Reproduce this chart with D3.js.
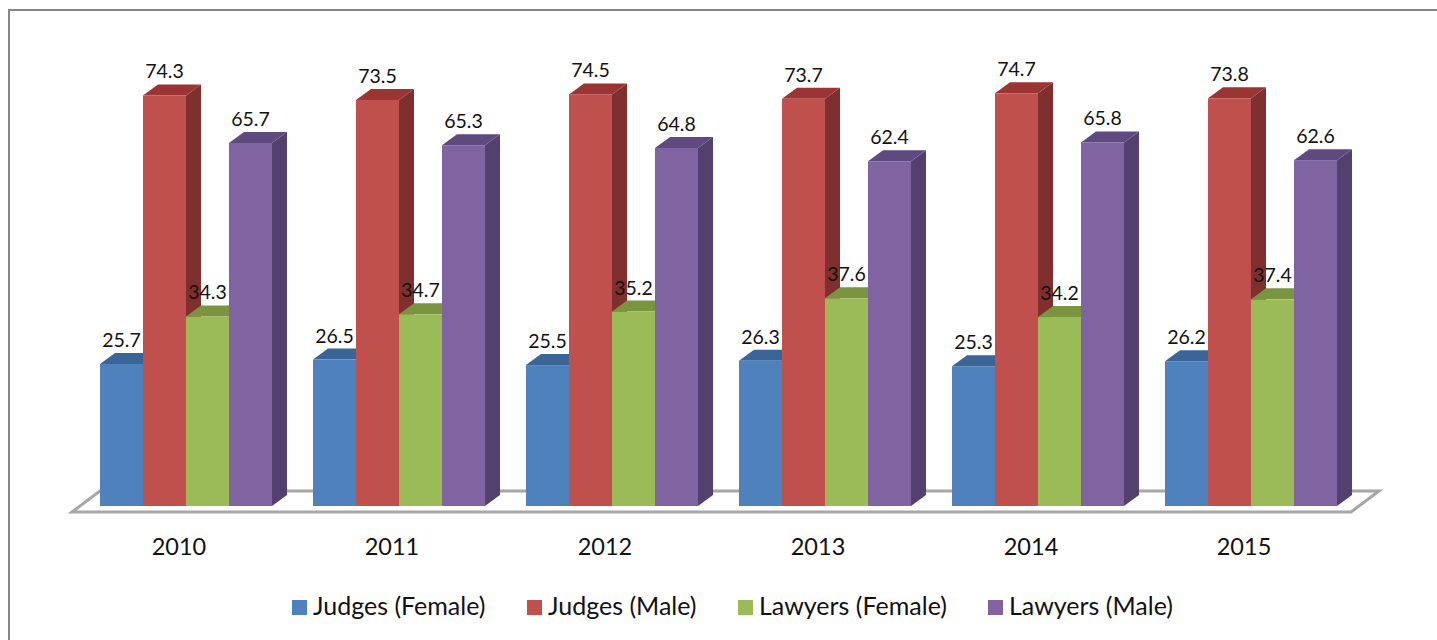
<!DOCTYPE html>
<html>
<head>
<meta charset="utf-8">
<script src="https://cdnjs.cloudflare.com/ajax/libs/d3/7.8.5/d3.min.js"></script>
<style>
    html, body { margin: 0; padding: 0; background: #fff; }
    svg { display: block; }
    text { font-family: Lato, "Open Sans", sans-serif; fill: #111; }
</style>
</head>
<body>
<div id="chart"></div>
<script>
var years = ["2010", "2011", "2012", "2013", "2014", "2015"];
var seriesNames = ["Judges (Female)", "Judges (Male)", "Lawyers (Female)", "Lawyers (Male)"];
var judgesFemale = [25.7, 26.5, 25.5, 26.3, 25.3, 26.2];
var judgesMale = [74.3, 73.5, 74.5, 73.7, 74.7, 73.8];
var lawyersFemale = [34.3, 34.7, 35.2, 37.6, 34.2, 37.4];
var lawyersMale = [65.7, 65.3, 64.8, 62.4, 65.8, 62.6];
var seriesValues = [judgesFemale, judgesMale, lawyersFemale, lawyersMale];

var frontColors = ["#4f81bd", "#c0504d", "#9bbb59", "#8064a2"];
var topColors = ["#3b6597", "#9a3533", "#7a9440", "#5f4a80"];
var sideColors = ["#345a87", "#7f2f2d", "#6b8238", "#54406f"];

var w = 1437;
var h = 640;
var depthX = 15;
var depthY = 11;

var svg = d3.select("#chart").append("svg")
    .attr("width", w)
    .attr("height", h);

// outer frame: only the top and left edges are in the picture
svg.append("path")
    .attr("d", "M9," + h + "V10H" + w)
    .attr("fill", "none")
    .attr("stroke", "#868686")
    .attr("stroke-width", 2);

var xScale = d3.scaleBand()
    .domain(years)
    .range([79.5, 1357.5])
    .paddingInner(0.1925)
    .paddingOuter(0.0962);

var barScale = d3.scaleBand()
    .domain(d3.range(seriesNames.length))
    .range([0, xScale.bandwidth()]);

var yScale = d3.scaleLinear()
    .domain([0, 80])
    .range([506, 64]);

// floor
var floorLeft = xScale(years[0]) - 28;
var floorRight = xScale(years[5]) + xScale.bandwidth() + 14;
var floorPts = [
    [floorLeft, yScale(0) + 6],
    [floorRight, yScale(0) + 6],
    [floorRight + 28, yScale(0) - 15],
    [floorLeft + 28, yScale(0) - 15]
];
svg.append("polygon")
    .attr("points", floorPts.join(" "))
    .attr("fill", "#fff")
    .attr("stroke", "#a6a6a6")
    .attr("stroke-width", 3);

var groups = svg.selectAll(".year")
    .data(years)
    .enter()
    .append("g")
    .attr("class", "year")
    .attr("transform", function (d) { return "translate(" + xScale(d) + ",0)"; });

// left to right, so that each bar covers the depth of the one before it
seriesNames.forEach(function (name, s) {
    var bw = barScale.bandwidth();

    groups.append("polygon")
        .attr("fill", sideColors[s])
        .attr("points", function (d, i) {
            var x = barScale(s) + bw;
            var y = yScale(seriesValues[s][i]);
            return [[x, y], [x + depthX, y - depthY], [x + depthX, yScale(0) - depthY], [x, yScale(0)]].join(" ");
        });

    groups.append("polygon")
        .attr("fill", topColors[s])
        .attr("points", function (d, i) {
            var x = barScale(s);
            var y = yScale(seriesValues[s][i]);
            return [[x, y], [x + bw, y], [x + bw + depthX, y - depthY], [x + depthX, y - depthY]].join(" ");
        });

    groups.append("rect")
        .attr("x", barScale(s))
        .attr("y", function (d, i) { return yScale(seriesValues[s][i]); })
        .attr("width", bw)
        .attr("height", function (d, i) { return yScale(0) - yScale(seriesValues[s][i]); })
        .attr("fill", frontColors[s]);
});

// value labels go on top of all the bars
seriesNames.forEach(function (name, s) {
    groups.append("text")
        .attr("x", barScale(s) + barScale.bandwidth() / 2)
        .attr("y", function (d, i) { return yScale(seriesValues[s][i]) - depthY - 6; })
        .attr("text-anchor", "middle")
        .style("font-size", "19.5px")
        .text(function (d, i) { return seriesValues[s][i].toFixed(1); });
});

var xAxis = d3.axisBottom(xScale).tickSize(0).tickPadding(0);

// year labels sit a little left of the bars' centre
var axisG = svg.append("g")
    .attr("transform", "translate(-7,538)")
    .call(xAxis);
axisG.select(".domain").remove();
axisG.selectAll("text")
    .style("font-family", "Lato, 'Open Sans', sans-serif")
    .style("font-size", "23.5px")
    .style("fill", "#111");

// legend
var legendX = d3.scaleOrdinal()
    .domain(seriesNames)
    .range([292, 527, 738, 988]);

var legend = svg.selectAll(".legend")
    .data(seriesNames)
    .enter()
    .append("g")
    .attr("class", "legend")
    .attr("transform", function (d) { return "translate(" + legendX(d) + ",600)"; });

legend.append("rect")
    .attr("width", 15)
    .attr("height", 15)
    .attr("fill", function (d, i) { return frontColors[i]; });

legend.append("text")
    .attr("x", 21)
    .attr("y", 15)
    .style("font-size", "25px")
    .text(function (d) { return d; });
</script>
</body>
</html>
